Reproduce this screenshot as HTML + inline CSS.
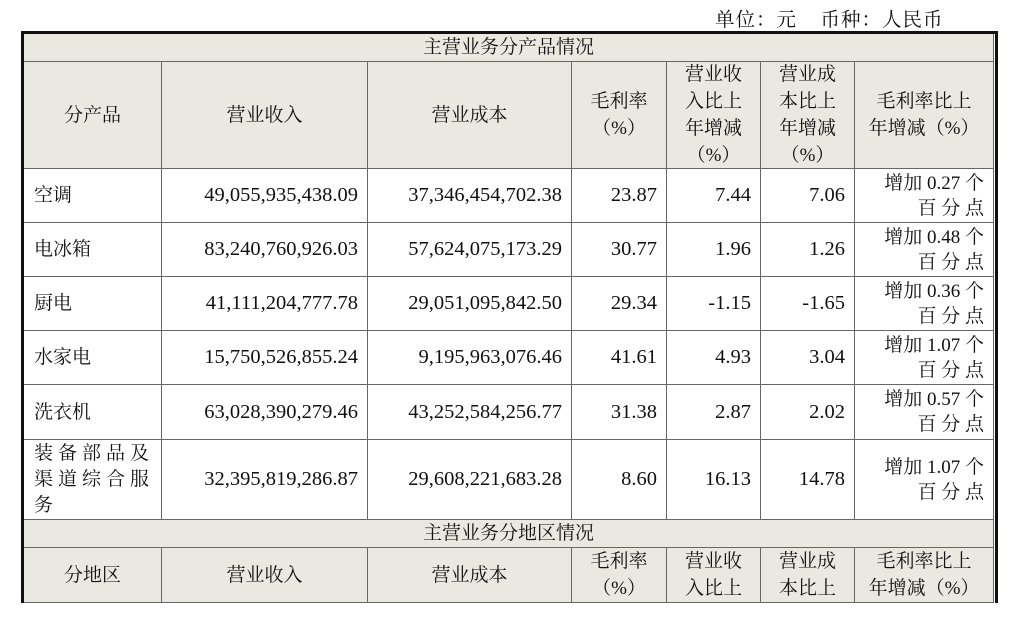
<!DOCTYPE html>
<html><head><meta charset="utf-8">
<style>
body{margin:0;width:1024px;height:633px;background:#fff;position:relative;overflow:hidden;
font-family:"Liberation Serif","Noto Serif CJK SC",serif;font-size:19px;color:#111;}
.c{position:absolute;box-sizing:border-box;border-right:1.5px solid #666;border-bottom:1.5px solid #666;display:flex;align-items:center;line-height:27px;}
.h{background:#e9e8e1;justify-content:center;text-align:center;}
.r{justify-content:flex-end;text-align:right;padding-right:9px;font-size:20.5px;}
.l{justify-content:flex-start;padding-left:10px;}
.p{justify-content:flex-end;text-align:right;padding-right:9px;line-height:25px;}
</style></head><body>
<div style="position:absolute;left:715px;top:4px;font-size:19.5px;letter-spacing:1px;">单位：元&nbsp;&nbsp;&nbsp;&nbsp;币种：人民币</div>
<div style="position:absolute;left:21px;top:31px;width:977px;height:572px;border-top:3px solid #111;border-left:3px solid #111;border-right:3px solid #111;box-sizing:border-box;"></div>

<div class="c h" style="left:24px;top:34px;width:970px;height:28px;">主营业务分产品情况</div>
<div class="c h" style="left:24px;top:62px;width:138px;height:107px;">分产品</div>
<div class="c h" style="left:162px;top:62px;width:206px;height:107px;">营业收入</div>
<div class="c h" style="left:368px;top:62px;width:204px;height:107px;">营业成本</div>
<div class="c h" style="left:572px;top:62px;width:95px;height:107px;">毛利率<br>（%）</div>
<div class="c h" style="left:667px;top:62px;width:94px;height:107px;">营业收<br>入比上<br>年增减<br>（%）</div>
<div class="c h" style="left:761px;top:62px;width:94px;height:107px;">营业成<br>本比上<br>年增减<br>（%）</div>
<div class="c h" style="left:855px;top:62px;width:139px;height:107px;">毛利率比上<br>年增减（%）</div>

<div class="c l" style="left:24px;top:169px;width:138px;height:54px;">空调</div>
<div class="c r" style="left:162px;top:169px;width:206px;height:54px;">49,055,935,438.09</div>
<div class="c r" style="left:368px;top:169px;width:204px;height:54px;">37,346,454,702.38</div>
<div class="c r" style="left:572px;top:169px;width:95px;height:54px;">23.87</div>
<div class="c r" style="left:667px;top:169px;width:94px;height:54px;">7.44</div>
<div class="c r" style="left:761px;top:169px;width:94px;height:54px;">7.06</div>
<div class="c p" style="left:855px;top:169px;width:139px;height:54px;">增加 0.27 个<br>百 分 点</div>

<div class="c l" style="left:24px;top:223px;width:138px;height:54px;">电冰箱</div>
<div class="c r" style="left:162px;top:223px;width:206px;height:54px;">83,240,760,926.03</div>
<div class="c r" style="left:368px;top:223px;width:204px;height:54px;">57,624,075,173.29</div>
<div class="c r" style="left:572px;top:223px;width:95px;height:54px;">30.77</div>
<div class="c r" style="left:667px;top:223px;width:94px;height:54px;">1.96</div>
<div class="c r" style="left:761px;top:223px;width:94px;height:54px;">1.26</div>
<div class="c p" style="left:855px;top:223px;width:139px;height:54px;">增加 0.48 个<br>百 分 点</div>

<div class="c l" style="left:24px;top:277px;width:138px;height:54px;">厨电</div>
<div class="c r" style="left:162px;top:277px;width:206px;height:54px;">41,111,204,777.78</div>
<div class="c r" style="left:368px;top:277px;width:204px;height:54px;">29,051,095,842.50</div>
<div class="c r" style="left:572px;top:277px;width:95px;height:54px;">29.34</div>
<div class="c r" style="left:667px;top:277px;width:94px;height:54px;">-1.15</div>
<div class="c r" style="left:761px;top:277px;width:94px;height:54px;">-1.65</div>
<div class="c p" style="left:855px;top:277px;width:139px;height:54px;">增加 0.36 个<br>百 分 点</div>

<div class="c l" style="left:24px;top:331px;width:138px;height:54px;">水家电</div>
<div class="c r" style="left:162px;top:331px;width:206px;height:54px;">15,750,526,855.24</div>
<div class="c r" style="left:368px;top:331px;width:204px;height:54px;">9,195,963,076.46</div>
<div class="c r" style="left:572px;top:331px;width:95px;height:54px;">41.61</div>
<div class="c r" style="left:667px;top:331px;width:94px;height:54px;">4.93</div>
<div class="c r" style="left:761px;top:331px;width:94px;height:54px;">3.04</div>
<div class="c p" style="left:855px;top:331px;width:139px;height:54px;">增加 1.07 个<br>百 分 点</div>

<div class="c l" style="left:24px;top:385px;width:138px;height:55px;">洗衣机</div>
<div class="c r" style="left:162px;top:385px;width:206px;height:55px;">63,028,390,279.46</div>
<div class="c r" style="left:368px;top:385px;width:204px;height:55px;">43,252,584,256.77</div>
<div class="c r" style="left:572px;top:385px;width:95px;height:55px;">31.38</div>
<div class="c r" style="left:667px;top:385px;width:94px;height:55px;">2.87</div>
<div class="c r" style="left:761px;top:385px;width:94px;height:55px;">2.02</div>
<div class="c p" style="left:855px;top:385px;width:139px;height:55px;">增加 0.57 个<br>百 分 点</div>

<div class="c l" style="left:24px;top:440px;width:138px;height:80px;letter-spacing:5px;line-height:26px;">装备部品及<br>渠道综合服<br>务</div>
<div class="c r" style="left:162px;top:440px;width:206px;height:80px;">32,395,819,286.87</div>
<div class="c r" style="left:368px;top:440px;width:204px;height:80px;">29,608,221,683.28</div>
<div class="c r" style="left:572px;top:440px;width:95px;height:80px;">8.60</div>
<div class="c r" style="left:667px;top:440px;width:94px;height:80px;">16.13</div>
<div class="c r" style="left:761px;top:440px;width:94px;height:80px;">14.78</div>
<div class="c p" style="left:855px;top:440px;width:139px;height:80px;">增加 1.07 个<br>百 分 点</div>

<div class="c h" style="left:24px;top:520px;width:970px;height:28px;">主营业务分地区情况</div>
<div class="c h" style="left:24px;top:548px;width:138px;height:55px;">分地区</div>
<div class="c h" style="left:162px;top:548px;width:206px;height:55px;">营业收入</div>
<div class="c h" style="left:368px;top:548px;width:204px;height:55px;">营业成本</div>
<div class="c h" style="left:572px;top:548px;width:95px;height:55px;">毛利率<br>（%）</div>
<div class="c h" style="left:667px;top:548px;width:94px;height:55px;">营业收<br>入比上</div>
<div class="c h" style="left:761px;top:548px;width:94px;height:55px;">营业成<br>本比上</div>
<div class="c h" style="left:855px;top:548px;width:139px;height:55px;">毛利率比上<br>年增减（%）</div>
</body></html>
